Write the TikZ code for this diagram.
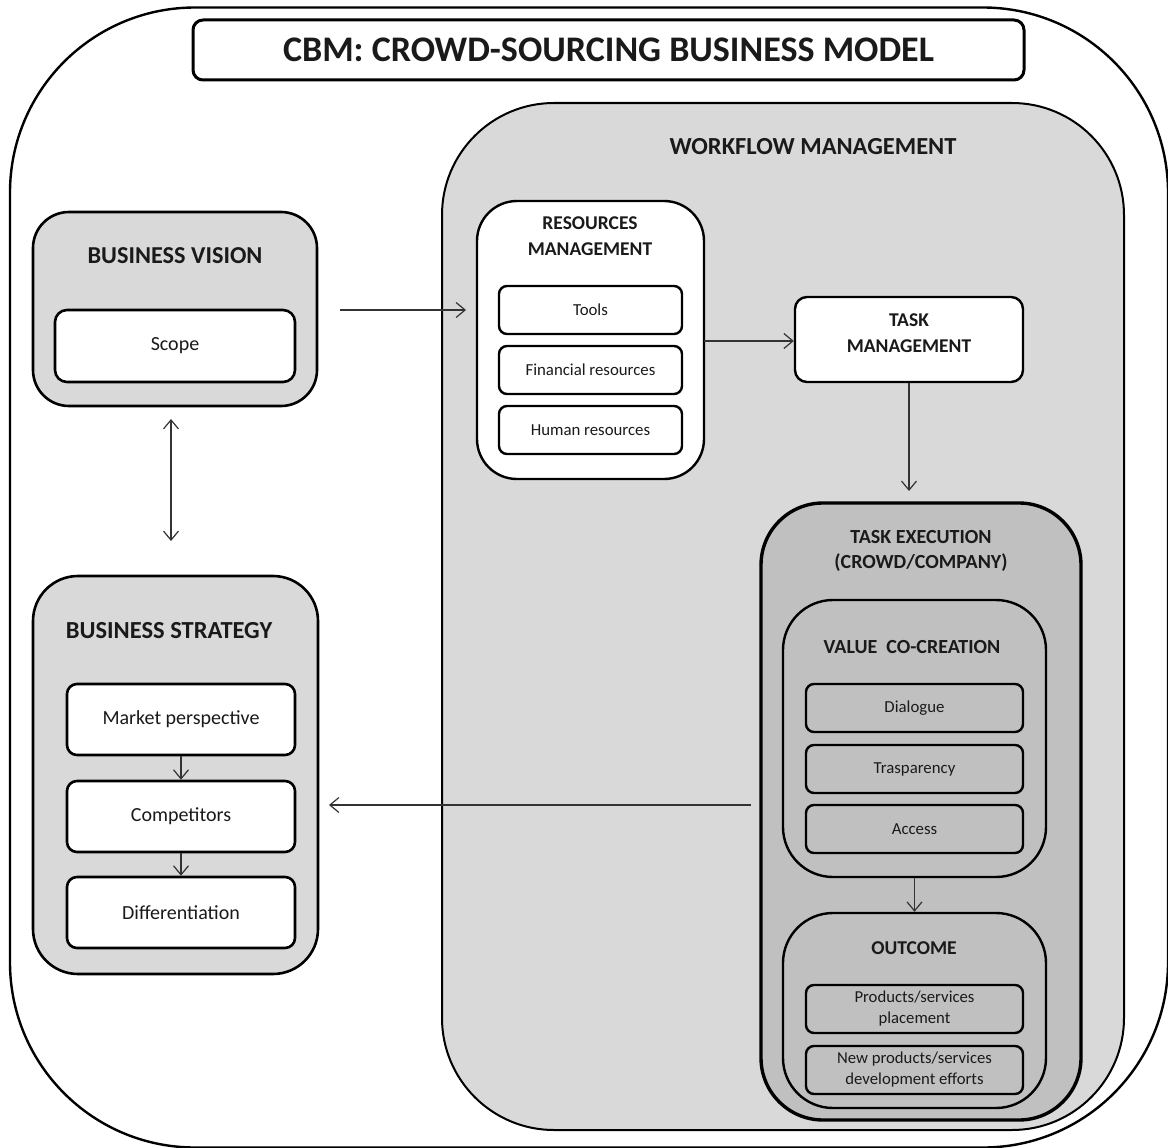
\documentclass[tikz,border=0pt]{standalone}
\usepackage{fontspec}
\setmainfont{Carlito}
\usetikzlibrary{arrows.meta}
\definecolor{lgray}{HTML}{D9D9D9}
\definecolor{mgray}{HTML}{C0C0C0}
\definecolor{txt}{HTML}{1A1A1A}
\begin{document}
\begin{tikzpicture}[x=1pt,y=-1pt,
  box/.style={draw=black, rounded corners=#1, inner sep=0pt, align=center, text=txt},
  box/.default=10pt,
  hd/.style={font=\bfseries\fontsize{#1}{#1}\selectfont, text=txt, align=center, inner sep=0pt},
  itm/.style={font=\fontsize{#1}{#1}\selectfont},
  conn/.style={draw=black!80, line width=1.2pt, -{Straight Barb[length=9pt,width=15pt,line width=1.2pt]}},
  conn2/.style={draw=black!80, line width=1.2pt, {Straight Barb[length=9pt,width=15pt,line width=1.2pt]}-{Straight Barb[length=9pt,width=15pt,line width=1.2pt]}}
]
\useasboundingbox (0,0) rectangle (1168,1148);
\fill[white] (0,0) rectangle (1168,1148);
% outer frame
\node[box=185pt, line width=2.4pt, minimum width=1158pt, minimum height=1140pt] (frame) at (589,577.5) {};
% title
\node[box=10pt, line width=3pt, fill=white, minimum width=831pt, minimum height=60pt,
  font=\bfseries\fontsize{36}{36}\selectfont] (title) at (608.5,50) {CBM: CROWD-SOURCING BUSINESS MODEL};
% workflow
\node[box=112pt, line width=2pt, fill=lgray, minimum width=682pt, minimum height=1027pt] (wf) at (783,616.5) {};
\node[hd=24.5] (wflab) at (813,147) {WORKFLOW MANAGEMENT};
% business vision
\node[box=36pt, line width=2.6pt, fill=lgray, minimum width=284pt, minimum height=194pt] (bv) at (175,309) {};
\node[hd=24.3] (bvlab) at (175,256) {BUSINESS VISION};
\node[box=12pt, line width=2.6pt, fill=white, minimum width=240pt, minimum height=72pt, itm=20] (scope) at (175,346) {Scope};
% business strategy
\node[box=45pt, line width=2.6pt, fill=lgray, minimum width=285pt, minimum height=398pt] (bs) at (175.5,775) {};
\node[hd=24.5] (bslab) at (169,631) {BUSINESS STRATEGY};
\node[box=10pt, line width=2.6pt, fill=white, minimum width=228pt, minimum height=71pt, itm=20] (mkt) at (181,719.5) {Market perspective};
\node[box=10pt, line width=2.6pt, fill=white, minimum width=228pt, minimum height=71pt, itm=20] (comp) at (181,816.5) {Competitors};
\node[box=10pt, line width=2.6pt, fill=white, minimum width=228pt, minimum height=71pt, itm=20] (diff) at (181,912.5) {Differentiation};
% resources management
\node[box=40pt, line width=2.4pt, fill=white, minimum width=227pt, minimum height=278pt] (res) at (590.5,340) {};
\node[hd=19.5, font=\bfseries\fontsize{19.5}{26}\selectfont] (reslab) at (590,236) {RESOURCES\\MANAGEMENT};
\node[box=8pt, line width=2.4pt, fill=white, minimum width=183pt, minimum height=48pt, itm=16.8] (tools) at (590.5,310) {Tools};
\node[box=8pt, line width=2.4pt, fill=white, minimum width=183pt, minimum height=48pt, itm=16.8] (fin) at (590.5,370) {Financial resources};
\node[box=8pt, line width=2.4pt, fill=white, minimum width=183pt, minimum height=48pt, itm=16.8] (hum) at (590.5,430) {Human resources};
% task management
\node[box=12pt, line width=2.4pt, fill=white, minimum width=228pt, minimum height=85pt] (tm) at (909,339.5) {};
\node[hd=19.5, font=\bfseries\fontsize{19.5}{26}\selectfont] (tmlab) at (909,333.5) {TASK\\MANAGEMENT};
% task execution
\node[box=62pt, line width=3.4pt, fill=mgray, minimum width=320pt, minimum height=617pt] (te) at (921,811.5) {};
\node[hd=20, font=\bfseries\fontsize{20}{25.5}\selectfont] (telab) at (921,551) {TASK EXECUTION\\(CROWD/COMPANY)};
% value co-creation
\node[box=50pt, line width=2.4pt, fill=mgray, minimum width=263pt, minimum height=277pt] (vc) at (914.5,738.5) {};
\node[hd=20] (vclab) at (912,647) {VALUE\ \ CO-CREATION};
\node[box=8pt, line width=2.4pt, fill=mgray, minimum width=217pt, minimum height=48pt, itm=16.8] (dia) at (914.5,708) {Dialogue};
\node[box=8pt, line width=2.4pt, fill=mgray, minimum width=217pt, minimum height=48pt, itm=16.8] (tra) at (914.5,769) {Trasparency};
\node[box=8pt, line width=2.4pt, fill=mgray, minimum width=217pt, minimum height=48pt, itm=16.8] (acc) at (914.5,829) {Access};
% outcome
\node[box=50pt, line width=2.4pt, fill=mgray, minimum width=263pt, minimum height=195pt] (oc) at (914.5,1010.5) {};
\node[hd=19.6] (oclab) at (914,948) {OUTCOME};
\node[box=8pt, line width=2.4pt, fill=mgray, minimum width=217pt, minimum height=48pt,
  font=\fontsize{16.7}{21}\selectfont] (prod) at (914.5,1009) {Products/services\\placement};
\node[box=8pt, line width=2.4pt, fill=mgray, minimum width=217pt, minimum height=48pt,
  font=\fontsize{16.7}{21}\selectfont] (newp) at (914.5,1070) {New products/services\\development efforts};
% connectors
\coordinate (bvout) at (340,310);
\coordinate (resin) at (466,310);
\draw[conn] (bvout) -- (resin);
\coordinate (resout) at (704,341);
\draw[conn] (resout) -- (resout -| tm.west);
\coordinate (tein) at (909,491);
\draw[conn] (tm.south) -- (tein);
\draw[conn] (vc.south) -- (oc.north);
\coordinate (teout) at (751,805);
\coordinate (bsin) at (329,805);
\draw[conn] (teout) -- (bsin);
\coordinate (bvdown) at (171,419);
\coordinate (bsup) at (171,541);
\draw[conn2] (bvdown) -- (bsup);
\draw[conn] (mkt.south) -- (comp.north);
\draw[conn] (comp.south) -- (diff.north);
\end{tikzpicture}
\end{document}
